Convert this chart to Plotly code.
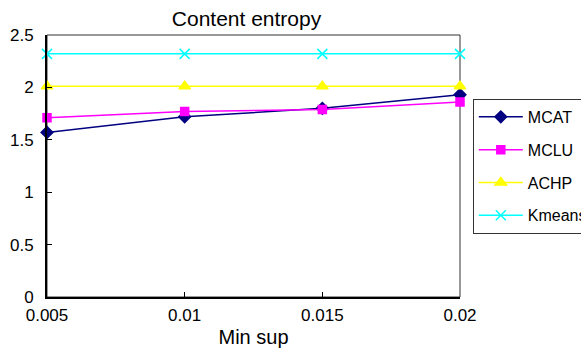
import plotly.graph_objects as go

min_sup = [0.005, 0.01, 0.015, 0.02]
mcat = [1.57, 1.72, 1.80, 1.93]
mclu = [1.71, 1.77, 1.79, 1.86]
achp = [2.01, 2.01, 2.01, 2.01]
kmeans = [2.32, 2.32, 2.32, 2.32]
tick_vals = [0.005, 0.01, 0.015, 0.02]
tick_text = ["0.005", "0.01", "0.015", "0.02"]

series = [
    ("MCAT", mcat, "#000080", "diamond", 9),
    ("MCLU", mclu, "#FF00FF", "square", 8),
    ("ACHP", achp, "#FFFF00", "triangle-up", 10),
    ("Kmeans", kmeans, "#00FFFF", "x-thin-open", 10),
]

fig = go.Figure()
for i, (name, vals, col, sym, sz) in enumerate(series):
    fig.add_trace(go.Scatter(
        x=min_sup, y=vals, name=name, mode="lines+markers",
        line=dict(color=col, width=1.5),
        marker=dict(symbol=sym, size=sz, color=col, line=dict(color=col, width=1.5)),
        legendgroup=name, cliponaxis=False,
    ))

font = "Arial, Liberation Sans, sans-serif"
fig.update_layout(
    width=581, height=350,
    margin=dict(l=47, r=121, t=35, b=53, autoexpand=False),
    paper_bgcolor="white", plot_bgcolor="white",
    font=dict(family=font, size=17, color="black"),
    title=dict(text="Content entropy", x=246.5 / 581, xanchor="center",
               y=1 - 19 / 350, yanchor="middle", font=dict(size=21)),
    showlegend=True,
    legend=dict(x=1.031, xanchor="left", y=0.756, yanchor="top",
                bordercolor="#333333", borderwidth=1, bgcolor="white",
                font=dict(size=16), tracegroupgap=9,
                itemwidth=44),
    xaxis=dict(range=[0.005, 0.02], tickvals=tick_vals, ticktext=tick_text,
               ticks="inside", ticklen=5, tickcolor="black", showgrid=False,
               zeroline=False, showline=True, linecolor="black", linewidth=2,
               ticklabelstandoff=2,
               title=dict(text="Min sup", standoff=6, font=dict(size=20))),
    yaxis=dict(range=[0, 2.5], tickvals=[0, 0.5, 1, 1.5, 2, 2.5],
               ticktext=["0", "0.5", "1", "1.5", "2", "2.5"],
               ticks="inside", ticklen=5, tickcolor="black", showgrid=False,
               zeroline=False, showline=True, linecolor="black", linewidth=2,
               ticklabelstandoff=8),
    shapes=[dict(type="rect", xref="paper", yref="paper", x0=0, y0=0, x1=1, y1=1,
                 line=dict(color="#333333", width=1), layer="below")],
)

fig.write_html("out.html")
